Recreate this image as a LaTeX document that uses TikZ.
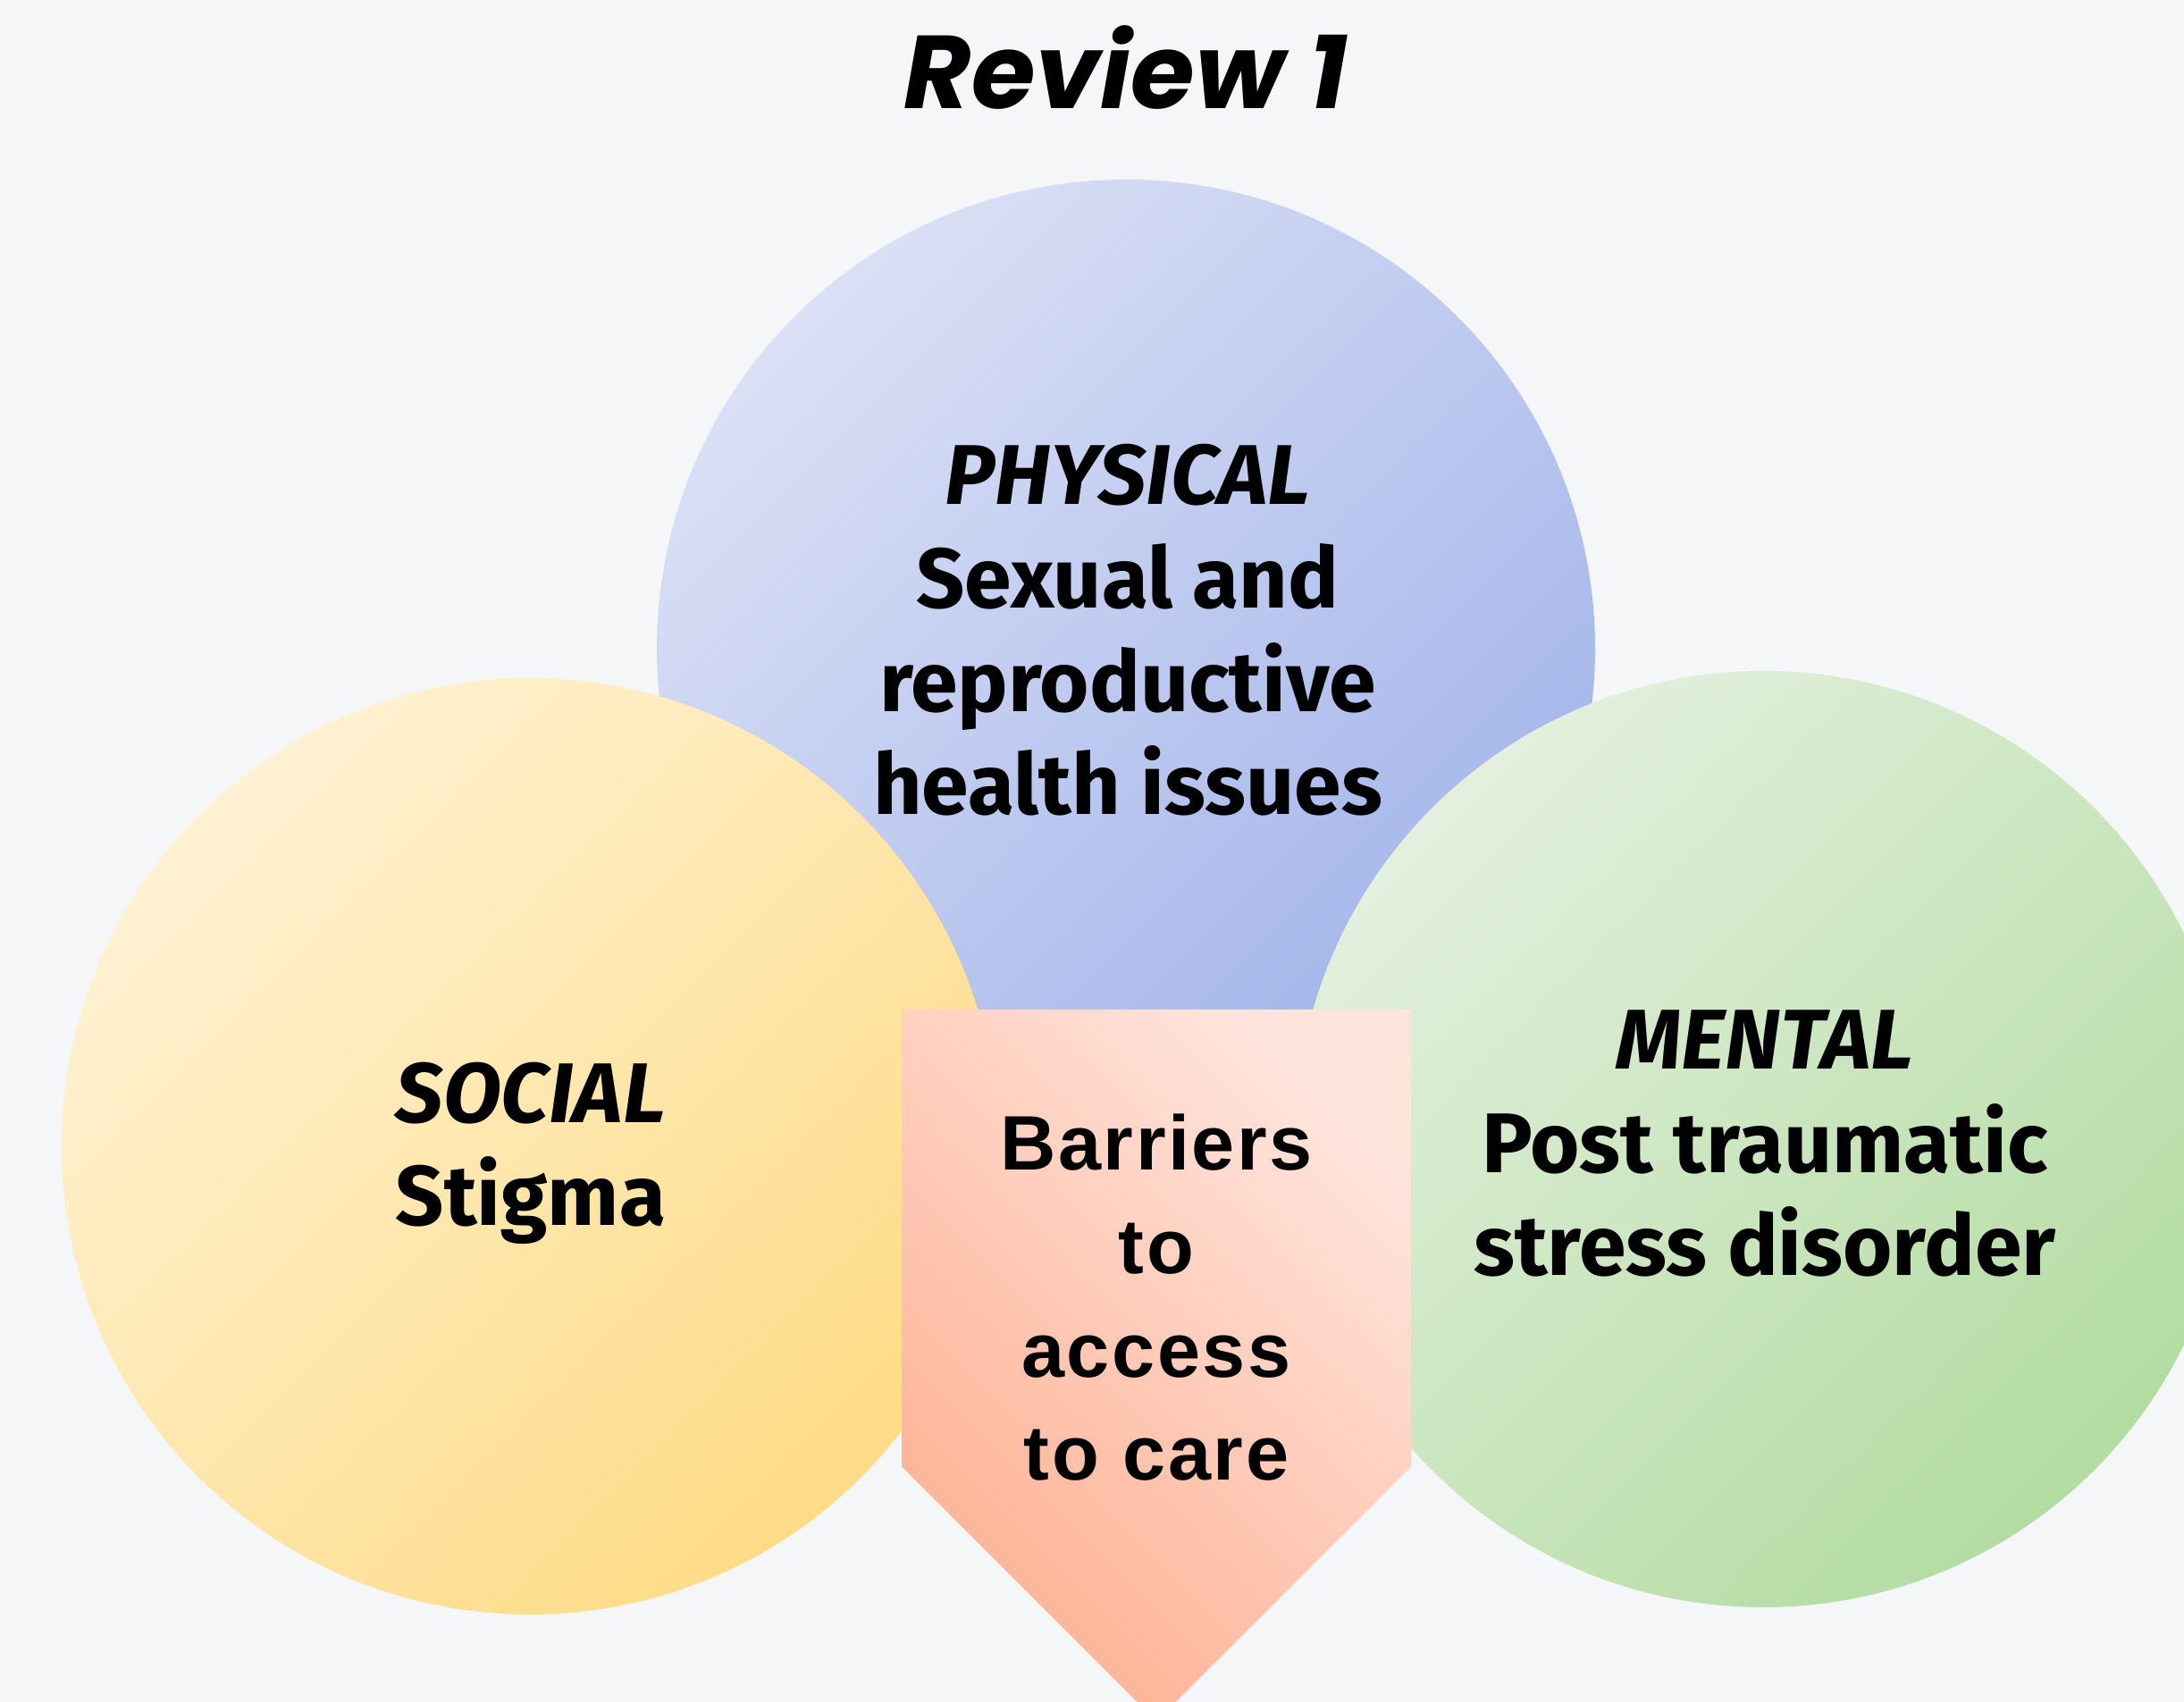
\documentclass[tikz,border=0pt]{standalone}
\usepackage{fontspec}
\newfontfamily\titlefont{Poppins}
\newfontfamily\labelfont{Fira Sans}
\newfontfamily\arrowfont{Liberation Sans}[LetterSpace=3]
\definecolor{bgcol}{HTML}{F5F6F8}
\definecolor{bluelight}{HTML}{DAE0F5}
\definecolor{bluedark}{HTML}{A2B4EA}
\definecolor{yellowlight}{HTML}{FFF2D3}
\definecolor{yellowdark}{HTML}{FEDB85}
\definecolor{greenlight}{HTML}{E3F0DE}
\definecolor{greendark}{HTML}{B3DCA1}
\definecolor{peachlight}{HTML}{FFE4DC}
\definecolor{peachdark}{HTML}{FEB193}
\begin{document}
\begin{tikzpicture}[
        lbl/.style={align=center, anchor=base, font=\labelfont\bfseries\fontsize{27}{33}\selectfont},
        barlbl/.style={align=center, anchor=base, font=\arrowfont\bfseries\fontsize{24.6}{33}\selectfont}
    ]
        \fill[bgcol] (0,0) rectangle (24.44,19.05);
        \useasboundingbox (0,0) rectangle (24.44,19.05);
        \clip (0,0) rectangle (24.44,19.05);

        % circles
        \shade[top color=bluelight, bottom color=bluedark, shading angle=45] (12.60,11.79) circle (5.25);
        \shade[top color=yellowlight, bottom color=yellowdark, shading angle=45] (5.93,6.22) circle (5.24);
        \shade[top color=greenlight, bottom color=greendark, shading angle=45] (19.73,6.30) circle (5.24);

        % arrow
        \shade[top color=peachlight, bottom color=peachdark, shading angle=-45]
            (10.09,7.75) -- (15.79,7.75) -- (15.79,2.635) -- (12.94,-0.215) -- (10.09,2.635) -- cycle;

        \node[anchor=base, font=\titlefont\bfseries\itshape\fontsize{33}{40}\selectfont] (title) at (12.60,17.83) {Review 1};

        % base = last line
        \node[lbl] (physical) at (12.62,9.93) {\textit{PHYSICAL}\\Sexual and\\reproductive\\health issues};
        \node[lbl] (social) at (5.94,5.33) {\textit{SOCIAL}\\Stigma};
        \node[lbl] (mental) at (19.75,4.77) {\textit{MENTAL}\\Post traumatic\\stress disorder};
        \node[barlbl] (barriers) at (12.94,2.48) {Barriers\\to\\access\\to care};
\end{tikzpicture}
\end{document}
